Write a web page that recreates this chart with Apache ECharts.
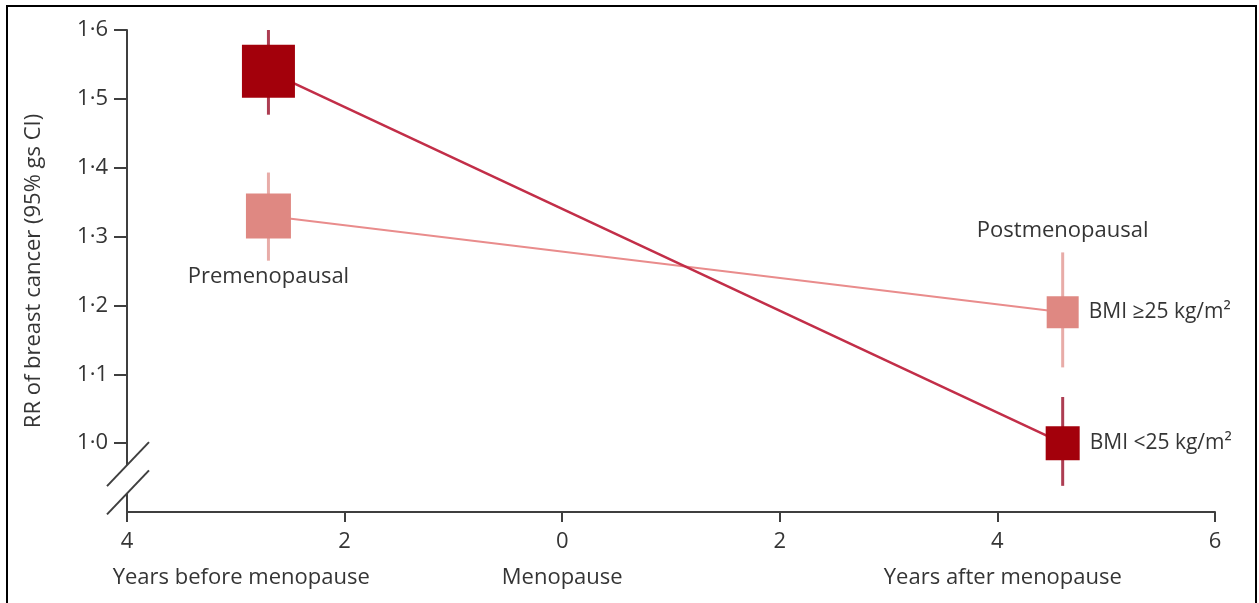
<!DOCTYPE html>
<html><head><meta charset="utf-8">
<script src="https://cdn.jsdelivr.net/npm/echarts@6/dist/echarts.min.js"></script>
<style>html,body{margin:0;padding:0;background:#fff;overflow:hidden}#c{width:1259px;height:603px}</style>
</head><body><div id="c"></div>
<script>
// ---- data ----
const groups = ['Premenopausal', 'Postmenopausal'];
const yearsFromMenopause = [-2.7, 4.6];
const bmiHighRR = [1.33, 1.19];
const bmiHighLower = [1.265, 1.11];
const bmiHighUpper = [1.393, 1.277];
const bmiLowRR = [1.54, 1.0];
const bmiLowLower = [1.477, 0.938];
const bmiLowUpper = [1.60, 1.067];
const seriesNames = ['BMI ≥25 kg/m²', 'BMI <25 kg/m²'];
const xTickValues = [-4, -2, 0, 2, 4, 6];
const xPhaseLabels = ['Years before menopause', 'Menopause', 'Years after menopause'];
const xPhaseValues = [-2.95, 0, 4.05];
const yTickValues = [1.0, 1.1, 1.2, 1.3, 1.4, 1.5, 1.6];
const yAxisTitle = 'RR of breast cancer (95% gs CI)';

// ---- styles ----
const FONT = '"Open Sans", "Noto Sans", sans-serif';
const TXT = '#353535';
const AX = '#3f3f3f';
const DARK = '#a3000b', DARK_LINE = '#c22e48', DARK_BAR = '#ad3d52';
const LIGHT = '#df8882', LIGHT_LINE = '#e98c8c', LIGHT_BAR = '#e8aca8';

const chart = echarts.init(document.getElementById('c'), null, {renderer: 'canvas'});

function pts(ys) { return yearsFromMenopause.map((x, i) => [x, ys[i]]); }
function bars(lo, hi) { return yearsFromMenopause.map((x, i) => [x, lo[i], hi[i]]); }

function errRender(color, withGroupLabels) {
  return function (params, api) {
    const x = api.value(0);
    const p1 = api.coord([x, api.value(1)]);
    const p2 = api.coord([x, api.value(2)]);
    const children = [{
      type: 'line',
      shape: {x1: p1[0], y1: p1[1], x2: p2[0], y2: p2[1]},
      style: {stroke: color, lineWidth: 3}
    }];
    if (withGroupLabels) {
      const i = params.dataIndex;
      const below = i === 0;
      children.push({
        type: 'text',
        style: {
          text: groups[i],
          x: p1[0],
          y: below ? p1[1] + 5 : p2[1] - 11,
          align: 'center',
          verticalAlign: below ? 'top' : 'bottom',
          font: '22px ' + FONT,
          fill: TXT
        }
      });
    }
    return {type: 'group', children};
  };
}

function squareData(ys, name) {
  return pts(ys).map((v, i) => ({
    value: v,
    label: {show: i === ys.length - 1, formatter: name}
  }));
}

const option = {
  animation: false,
  backgroundColor: '#fff',
  grid: {left: 127, right: 44, top: 30, bottom: 91},
  xAxis: [{
    type: 'value', min: -4, max: 6, interval: 2,
    axisLine: {show: true, onZero: false, lineStyle: {color: AX, width: 2}},
    axisTick: {show: true, length: 10, lineStyle: {color: AX, width: 2}},
    splitLine: {show: false},
    axisLabel: {
      margin: 19, color: TXT, fontFamily: FONT, fontSize: 22,
      customValues: xTickValues,
      formatter: v => String(Math.abs(v))
    }
  }, {
    type: 'value', min: -4, max: 6, position: 'bottom',
    axisLine: {show: false, onZero: false}, axisTick: {show: false}, splitLine: {show: false},
    axisLabel: {
      margin: 55, color: TXT, fontFamily: FONT, fontSize: 22,
      customValues: xPhaseValues,
      formatter: v => xPhaseLabels[xPhaseValues.indexOf(v)]
    }
  }],
  yAxis: {
    type: 'value', min: 0.9, max: 1.6, interval: 0.1,
    name: yAxisTitle, nameLocation: 'middle', nameGap: 82,
    nameTextStyle: {color: TXT, fontFamily: FONT, fontSize: 22},
    axisLine: {show: true, onZero: false, lineStyle: {color: AX, width: 2}},
    axisTick: {show: true, length: 13, customValues: yTickValues, lineStyle: {color: AX, width: 2}},
    splitLine: {show: false},
    axisLabel: {
      margin: 19, color: TXT, fontFamily: FONT, fontSize: 22,
      customValues: yTickValues,
      formatter: v => v.toFixed(1).replace('.', '·')
    }
  },
  series: [
    {
      type: 'line', name: seriesNames[0] + ' trend', data: pts(bmiHighRR),
      symbol: 'none', lineStyle: {color: LIGHT_LINE, width: 2}, z: 2
    },
    {
      type: 'line', name: seriesNames[1] + ' trend', data: pts(bmiLowRR),
      symbol: 'none', lineStyle: {color: DARK_LINE, width: 2.5}, z: 2
    },
    {
      type: 'custom', name: seriesNames[0] + ' CI', data: bars(bmiHighLower, bmiHighUpper),
      renderItem: errRender(LIGHT_BAR, true), z: 3
    },
    {
      type: 'custom', name: seriesNames[1] + ' CI', data: bars(bmiLowLower, bmiLowUpper),
      renderItem: errRender(DARK_BAR, false), z: 3
    },
    {
      type: 'scatter', name: seriesNames[0], data: squareData(bmiHighRR, seriesNames[0]),
      symbol: 'rect', symbolSize: (v, p) => [45, 32][p.dataIndex],
      itemStyle: {color: LIGHT, opacity: 1},
      label: {position: 'right', distance: 10, color: TXT, fontFamily: FONT, fontSize: 21},
      z: 4
    },
    {
      type: 'scatter', name: seriesNames[1], data: squareData(bmiLowRR, seriesNames[1]),
      symbol: 'rect', symbolSize: (v, p) => [53, 34][p.dataIndex],
      itemStyle: {color: DARK, opacity: 1},
      label: {position: 'right', distance: 10, color: TXT, fontFamily: FONT, fontSize: 21},
      z: 4
    }
  ]
};
chart.setOption(option);

// axis break marks + frame
const c1 = chart.convertToPixel({xAxisIndex: 0, yAxisIndex: 0}, [-4, 0.968]);
const c2 = chart.convertToPixel({xAxisIndex: 0, yAxisIndex: 0}, [-4, 0.927]);
chart.setOption({
  graphic: [
    {type: 'rect', shape: {x: c1[0] - 3, y: c1[1], width: 6, height: c2[1] - c1[1]}, style: {fill: '#fff'}, z: 10},
    {type: 'line', shape: {x1: c1[0] - 20, y1: c1[1] + 21, x2: c1[0] + 22, y2: c1[1] - 23}, style: {stroke: AX, lineWidth: 2}, z: 11},
    {type: 'line', shape: {x1: c2[0] - 20, y1: c2[1] + 21, x2: c2[0] + 22, y2: c2[1] - 23}, style: {stroke: AX, lineWidth: 2}, z: 11},
    {type: 'rect', shape: {x: 7, y: 6, width: 1249, height: 620}, style: {fill: null, stroke: '#000', lineWidth: 2}, z: 20, silent: true}
  ]
});
</script>
</body></html>
